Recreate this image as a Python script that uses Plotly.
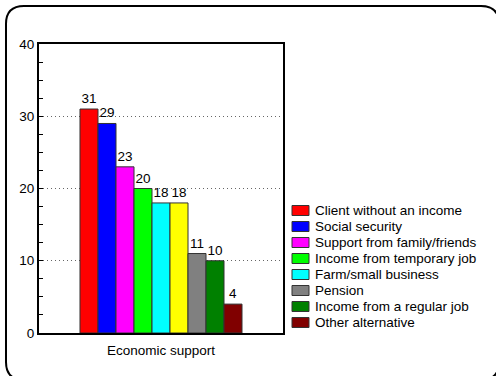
import plotly.graph_objects as go

category = ["Economic support"]
series_names = [
    "Client without an income",
    "Social security",
    "Support from family/friends",
    "Income from temporary job",
    "Farm/small business",
    "",
    "Pension",
    "Income from a regular job",
    "Other alternative",
]
series_values = [31, 29, 23, 20, 18, 18, 11, 10, 4]
series_colors = ["#ff0000", "#0000ff", "#ff00ff", "#00ff00", "#00ffff",
                 "#ffff00", "#808080", "#008000", "#800000"]
show_in_legend = [True, True, True, True, True, False, True, True, True]
y_ticks = [0, 10, 20, 30, 40]

W, H = 496, 376
L, R, T, B = 39, 283, 44, 333
FONT = "Liberation Sans, Arial, sans-serif"
FS = 13.5

fig = go.Figure()
for name, val, col in zip(series_names, series_values, series_colors):
    fig.add_trace(go.Bar(
        x=category, y=[val], name=name, showlegend=False,
        marker=dict(color=col, line=dict(color="#333333", width=1)),
        text=[str(val)], textposition="outside", constraintext="none",
        textfont=dict(size=FS, color="black", family=FONT),
        cliponaxis=False,
    ))

def px2paper(x, y):
    return (x - L) / (R - L), (B - y) / (B - T)

def P(x, y):
    px, py = px2paper(x, y)
    return f"{px:.5f},{py:.5f}"

# rounded outer border (extends past the right/bottom edges of the window)
x0, y0, x1, y1, r = 6, 6, 499, 380, 18
path = (f"M {P(x0 + r, y0)} L {P(x1 - r, y0)} Q {P(x1, y0)} {P(x1, y0 + r)} "
        f"L {P(x1, y1 - r)} Q {P(x1, y1)} {P(x1 - r, y1)} "
        f"L {P(x0 + r, y1)} Q {P(x0, y1)} {P(x0, y1 - r)} "
        f"L {P(x0, y0 + r)} Q {P(x0, y0)} {P(x0 + r, y0)} Z")
fig.add_shape(type="path", path=path, xref="paper", yref="paper",
              line=dict(color="black", width=2), layer="above")

# legend (drawn by hand to match the compact row spacing)
leg_x, leg_y0, leg_dy = 292, 210.5, 16
row = 0
for name, col, sl in zip(series_names, series_colors, show_in_legend):
    if not sl:
        continue
    cy = leg_y0 + row * leg_dy
    ax0, ay0 = px2paper(leg_x, cy + 5)
    ax1, ay1 = px2paper(leg_x + 17, cy - 5)
    fig.add_shape(type="rect", xref="paper", yref="paper",
                  x0=ax0, x1=ax1, y0=ay0, y1=ay1,
                  fillcolor=col, line=dict(color="#333333", width=1))
    tx, ty = px2paper(leg_x + 21, cy)
    fig.add_annotation(x=tx, y=ty, xref="paper", yref="paper", text=name,
                       showarrow=False, xanchor="left", yanchor="middle",
                       font=dict(size=FS, family=FONT, color="black"))
    row += 1

fig.update_layout(
    width=W, height=H,
    margin=dict(l=L, r=W - R, t=T, b=H - B, pad=0),
    paper_bgcolor="white", plot_bgcolor="white",
    barmode="group", bargap=0.336, bargroupgap=0,
    font=dict(family=FONT, size=FS, color="black"),
    showlegend=False,
    xaxis=dict(showline=True, mirror=True, linecolor="black", linewidth=2,
               ticks="", tickfont=dict(size=FS), showgrid=False,
               ticklabelstandoff=4),
    yaxis=dict(range=[0, 40], tickvals=y_ticks, showline=True, mirror=True,
               linecolor="black", linewidth=2, ticks="inside", ticklen=4,
               tickcolor="black",
               showgrid=True, gridcolor="#666666", griddash="1px,3px", gridwidth=1,
               zeroline=False, tickfont=dict(size=FS),
               minor=dict(dtick=2.5, ticks="inside", ticklen=4, tickcolor="black",
                          showgrid=False)),
)

fig.write_html("out.html")
